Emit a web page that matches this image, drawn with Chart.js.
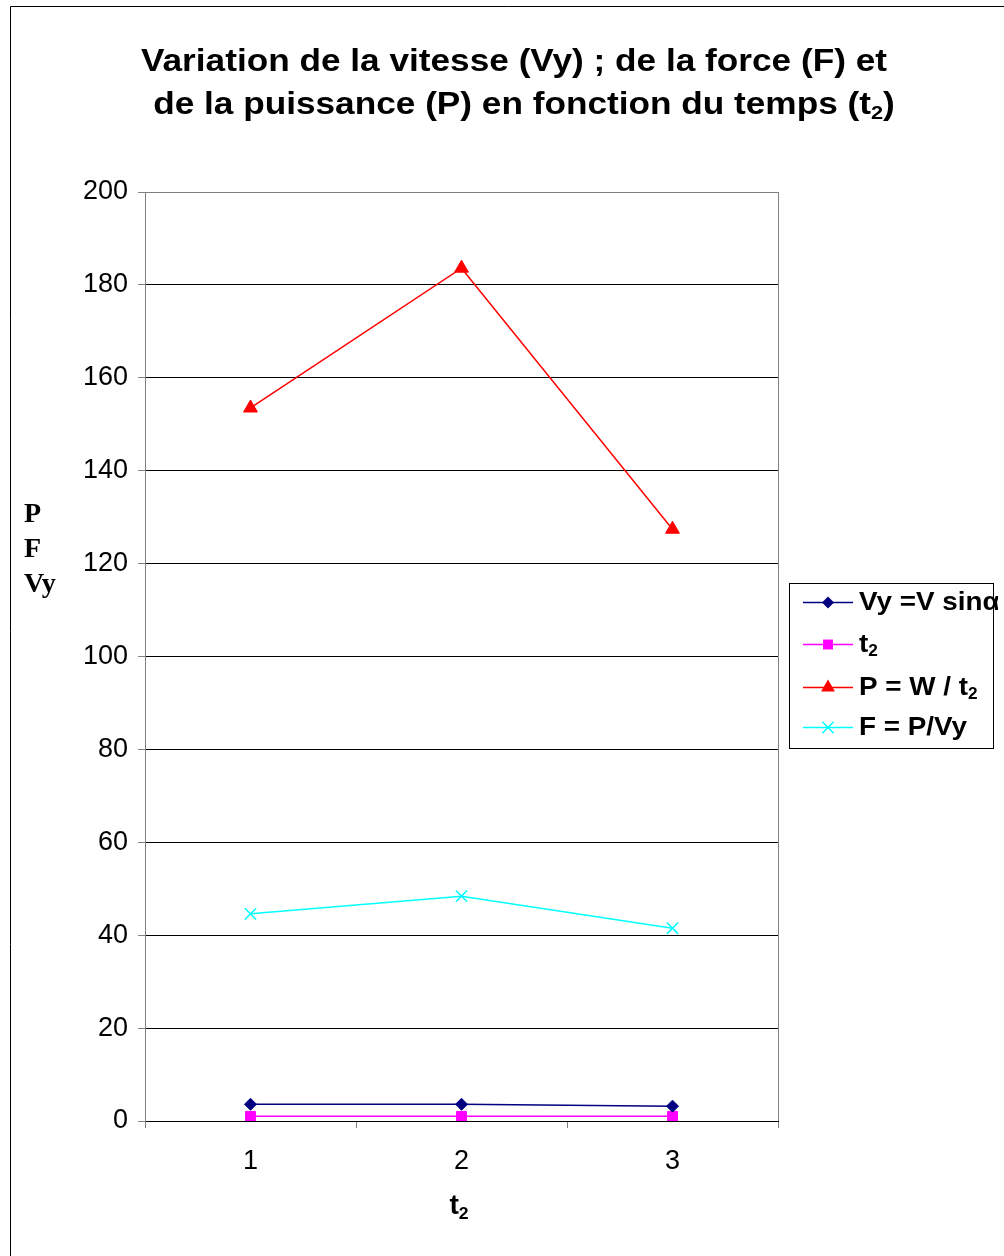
<!DOCTYPE html>
<html>
<head>
<meta charset="utf-8">
<script src="https://cdn.jsdelivr.net/npm/chart.js@4/dist/chart.umd.min.js"></script>
<style>
html,body{margin:0;padding:0;background:#fff;}
#wrap{width:1004px;height:1256px;position:relative;}
</style>
</head>
<body>
<div id="wrap"><canvas id="c" width="1004" height="1256"></canvas></div>
<script>
// ---- data ----
const categories = ['1', '2', '3'];
const vyValues = [3.6, 3.6, 3.2];
const t2Values = [1, 1, 1];
const pValues = [153.5, 183.6, 127.4];
const fValues = [44.6, 48.4, 41.5];
const yMin = 0, yMax = 200, yStep = 20;
const titleLines = [
  [{t: 'Variation de la vitesse (Vy) ; de la force (F) et'}],
  [{t: 'de la puissance (P) en fonction du temps (t'}, {t: '2', sub: true}, {t: ')'}]
];
const yTitleLines = ['P', 'F', 'Vy'];
const xTitle = [{t: 't'}, {t: '2', sub: true}];
const legendLabels = [
  [{t: 'Vy =V sin\u03B1'}],
  [{t: 't'}, {t: '2', sub: true}],
  [{t: 'P = W / t'}, {t: '2', sub: true}],
  [{t: 'F = P/Vy'}]
];

const SANS = '"Liberation Sans", Arial, sans-serif';
const SERIF = '"Liberation Serif", "Times New Roman", serif';

function richWidth(ctx, segs, size, family, weight) {
  let w = 0;
  for (const s of segs) {
    const fs = s.sub ? size * 0.62 : size;
    ctx.font = weight + ' ' + fs + 'px ' + family;
    w += ctx.measureText(s.t).width;
  }
  return w;
}
// draws text segments (with subscripts), optionally stretched horizontally by sx
function drawRich(ctx, segs, x, y, size, family, weight, align, sx) {
  sx = sx || 1;
  const w = richWidth(ctx, segs, size, family, weight) * sx;
  let left = align === 'center' ? x - w / 2 : x;
  ctx.save();
  ctx.translate(left, y);
  ctx.scale(sx, 1);
  ctx.textBaseline = 'alphabetic';
  ctx.textAlign = 'left';
  let cx = 0;
  for (const s of segs) {
    const fs = s.sub ? size * 0.62 : size;
    ctx.font = weight + ' ' + fs + 'px ' + family;
    ctx.fillText(s.t, cx, s.sub ? size * 0.17 : 0);
    cx += ctx.measureText(s.t).width;
  }
  ctx.restore();
}
function drawMarker(ctx, style, x, y, r, color) {
  ctx.save();
  ctx.fillStyle = color; ctx.strokeStyle = color; ctx.lineWidth = 1.5;
  ctx.beginPath();
  if (style === 'rectRot') {
    ctx.moveTo(x, y - r); ctx.lineTo(x + r, y); ctx.lineTo(x, y + r); ctx.lineTo(x - r, y); ctx.closePath(); ctx.fill();
  } else if (style === 'rect') {
    const s = r * Math.SQRT1_2;
    ctx.rect(x - s, y - s, 2 * s, 2 * s); ctx.fill();
  } else if (style === 'triangle') {
    ctx.moveTo(x, y - r); ctx.lineTo(x + r * 0.866, y + r * 0.5); ctx.lineTo(x - r * 0.866, y + r * 0.5); ctx.closePath(); ctx.fill();
  } else if (style === 'crossRot') {
    const o = r * Math.SQRT1_2;
    ctx.moveTo(x - o, y - o); ctx.lineTo(x + o, y + o); ctx.moveTo(x + o, y - o); ctx.lineTo(x - o, y + o); ctx.stroke();
  }
  ctx.restore();
}

const decor = {
  id: 'decor',
  beforeDraw(chart) {
    const ctx = chart.ctx;
    ctx.save();
    ctx.fillStyle = '#fff';
    ctx.fillRect(0, 0, chart.width, chart.height);
    ctx.restore();
  },
  afterDraw(chart) {
    const ctx = chart.ctx;
    const ca = chart.chartArea;
    ctx.save();
    // outer frame
    ctx.strokeStyle = '#000'; ctx.lineWidth = 1;
    ctx.beginPath();
    ctx.moveTo(10.5, 1300); ctx.lineTo(10.5, 6.5); ctx.lineTo(1100, 6.5);
    ctx.stroke();
    // right plot border
    ctx.strokeStyle = '#808080';
    ctx.beginPath();
    ctx.moveTo(Math.round(ca.right) + 0.5, ca.top); ctx.lineTo(Math.round(ca.right) + 0.5, ca.bottom);
    ctx.stroke();
    // title (stretched to the reference width)
    ctx.fillStyle = '#000';
    const tSize = 31;
    const sx = 746 / richWidth(ctx, titleLines[0], tSize, SANS, 'bold');
    drawRich(ctx, titleLines[0], 514, 71, tSize, SANS, 'bold', 'center', sx);
    drawRich(ctx, titleLines[1], 524, 114, tSize, SANS, 'bold', 'center', sx);
    // y title
    ctx.font = 'bold 28px ' + SERIF;
    ctx.textAlign = 'left'; ctx.textBaseline = 'alphabetic';
    const yb = [522, 557, 592];
    yTitleLines.forEach((t, i) => ctx.fillText(t, 24, yb[i]));
    // x title
    drawRich(ctx, xTitle, 459, 1214, 27, SANS, 'bold', 'center', 1.05);
    // legend
    ctx.strokeStyle = '#000'; ctx.lineWidth = 1;
    ctx.strokeRect(789.5, 583.5, 204, 165);
    ctx.save();
    ctx.beginPath(); ctx.rect(0, 0, 998, 1256); ctx.clip();
    const rows = [602, 644, 687, 727];
    chart.data.datasets.forEach((ds, i) => {
      const y = rows[i];
      ctx.strokeStyle = ds.borderColor; ctx.lineWidth = 1.5;
      ctx.beginPath(); ctx.moveTo(803, y + 0.5); ctx.lineTo(853, y + 0.5); ctx.stroke();
      drawMarker(ctx, ds.pointStyle, 828, y + 0.5, ds.pointRadius, ds.pointBackgroundColor);
      ctx.fillStyle = '#000';
      drawRich(ctx, legendLabels[i], 859, y + 8, 26, SANS, 'bold', 'left', 1.07);
    });
    ctx.restore();
    ctx.restore();
  }
};

new Chart(document.getElementById('c'), {
  type: 'line',
  data: {
    labels: categories,
    datasets: [
      {label: 'Vy =V sin\u03B1', data: vyValues, borderColor: '#000080', backgroundColor: '#000080', pointBackgroundColor: '#000080', pointBorderColor: '#000080', pointStyle: 'rectRot', pointRadius: 6, borderWidth: 1.5, pointBorderWidth: 1},
      {label: 't2', data: t2Values, borderColor: '#FF00FF', backgroundColor: '#FF00FF', pointBackgroundColor: '#FF00FF', pointBorderColor: '#FF00FF', pointStyle: 'rect', pointRadius: 7, borderWidth: 1.5, pointBorderWidth: 1},
      {label: 'P = W / t2', data: pValues, borderColor: '#FF0000', backgroundColor: '#FF0000', pointBackgroundColor: '#FF0000', pointBorderColor: '#FF0000', pointStyle: 'triangle', pointRadius: 8, borderWidth: 1.5, pointBorderWidth: 1},
      {label: 'F = P/Vy', data: fValues, borderColor: '#00FFFF', backgroundColor: '#00FFFF', pointBackgroundColor: '#00FFFF', pointBorderColor: '#00FFFF', pointStyle: 'crossRot', pointRadius: 8, borderWidth: 1.5, pointBorderWidth: 1.5}
    ]
  },
  options: {
    responsive: false,
    animation: false,
    devicePixelRatio: 1,
    layout: {padding: {top: 192, right: 226, left: 0, bottom: 0}},
    plugins: {legend: {display: false}, title: {display: false}, tooltip: {enabled: false}},
    elements: {line: {tension: 0}},
    scales: {
      x: {
        offset: true,
        grid: {offset: true, drawOnChartArea: false, drawTicks: true, tickLength: 7, tickColor: '#808080', color: '#808080'},
        border: {color: '#000', width: 1},
        ticks: {color: '#000', font: {family: SANS, size: 27}, padding: 17, maxRotation: 0},
        afterFit(s) { s.height = 135; }
      },
      y: {
        min: yMin, max: yMax,
        grid: {color: (c) => (c.tick && c.tick.value === yMax) ? '#808080' : '#000', lineWidth: 1, tickLength: 7, tickColor: '#808080'},
        border: {color: '#808080', width: 1},
        ticks: {stepSize: yStep, color: '#000', font: {family: SANS, size: 27}, padding: 10},
        afterFit(s) { s.width = 145; }
      }
    }
  },
  plugins: [decor]
});
</script>
</body>
</html>
